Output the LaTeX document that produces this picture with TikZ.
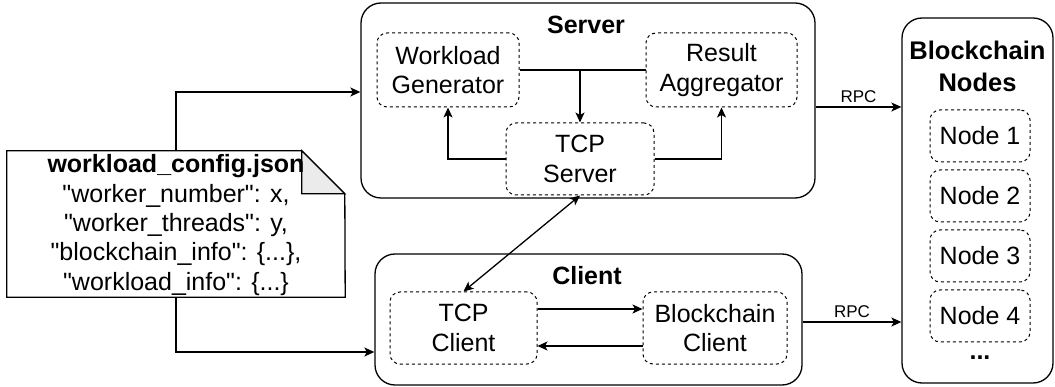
\documentclass[tikz,border=0pt]{standalone}
\usepackage{fontspec}
\setmainfont{Liberation Sans}[Ligatures=TeXOff]
\usetikzlibrary{arrows.meta,calc}
\newcommand\bfnt{\fontsize{25}{29.4}\selectfont}
\newcommand\rpcfnt{\fontsize{17}{20}\selectfont}
\begin{document}
\begin{tikzpicture}[x=1pt,y=-1pt,
  bigbox/.style={draw, line width=1.3pt, rounded corners=20pt, inner sep=0pt},
  subbox/.style={draw, line width=1pt, dash pattern=on 3pt off 3pt, rounded corners=10pt, inner sep=0pt, align=center, font=\bfnt},
  title/.style={font=\bfnt\bfseries, align=center, inner sep=0pt},
  arr/.style={line width=1.3pt, -{Stealth[length=10pt,width=9pt,inset=2.5pt]}},
  arrr/.style={line width=1.3pt, {Stealth[length=10pt,width=9pt,inset=2.5pt]}-{Stealth[length=10pt,width=9pt,inset=2.5pt]}},
  ln/.style={line width=1.3pt}
]
\useasboundingbox (0,0) rectangle (1055,387);

% config note
\node[minimum width=338pt, minimum height=146pt, inner sep=0pt] (cfg) at (176,224) {};
\draw[line width=1.3pt, fill=white] (cfg.north west) -- ++(295,0) -- ++(43,43) -- (cfg.south east) -- (cfg.south west) -- cycle;
\draw[line width=1.3pt, fill=black!8] ($(cfg.north west)+(295,0)$) -- ++(0,43) -- ++(43,0) -- cycle;
\node[align=center, inner sep=0pt, font=\bfnt] (cfgtxt) at (176,225) {\textbf{workload\_config.json}\\"worker\_number": x,\\"worker\_threads": y,\\"blockchain\_info": \{...\},\\"workload\_info": \{...\}};

% server
\node[bigbox, minimum width=454pt, minimum height=195pt] (S) at (588,100.5) {};
\node[title] (St) at (586,25) {Server};
\node[subbox, minimum width=142pt, minimum height=74pt] (WG) at (448,70) {Workload\\Generator};
\node[subbox, minimum width=151pt, minimum height=74pt] (RA) at (721.5,70) {Result\\Aggregator};
\node[subbox, minimum width=148pt, minimum height=72pt] (TS) at (580,159) {TCP\\Server};
\draw[ln] (WG.east) -- (RA.west);
\coordinate (j) at (580,70);
\draw[arr] (j) -- (TS.north);
\draw[arr] (TS.west) -| (WG.south);
\draw[arr] (TS.east) -| (RA.south);

% client
\node[bigbox, minimum width=427pt, minimum height=131pt] (C) at (588.5,319.5) {};
\node[title] (Ct) at (587,276) {Client};
\node[subbox, minimum width=147pt, minimum height=72pt] (TC) at (463.5,328) {TCP\\Client};
\node[subbox, minimum width=144pt, minimum height=72pt] (BC) at (715,328) {Blockchain\\Client};
\draw[arr] ($(TC.east)+(0,-19)$) coordinate (a1) -- (a1 -| BC.west);
\draw[arr] ($(BC.west)+(0,18)$) coordinate (a2) -- (a2 -| TC.east);
\draw[arrr] (TS.south) -- (TC.north);

% blockchain nodes
\node[bigbox, minimum width=151pt, minimum height=365pt] (BN) at (977.5,200.5) {};
\node[title, font=\fontsize{25.5}{32}\selectfont\bfseries] (BNt) at (977.5,66) {Blockchain\\Nodes};
\node[subbox, minimum width=100pt, minimum height=52pt] (N1) at (980,136) {Node 1};
\node[subbox, minimum width=100pt, minimum height=52pt] (N2) at (980,196) {Node 2};
\node[subbox, minimum width=100pt, minimum height=52pt] (N3) at (980,256) {Node 3};
\node[subbox, minimum width=100pt, minimum height=52pt] (N4) at (980,316) {Node 4};
\node[title] (dots) at (980,358) {...};

% RPC
\draw[arr] ($(S.east)+(0,6.5)$) coordinate (r1) -- (r1 -| BN.west) node[midway, above, font=\rpcfnt, inner sep=4pt] {RPC};
\draw[arr] ($(C.east)+(0,2.5)$) coordinate (r2) -- (r2 -| BN.west) node[midway, above, font=\rpcfnt, inner sep=4pt] {RPC};

% config links
\draw[arr] (cfg.north) |- ($(S.west)+(0,-8.5)$);
\draw[arr] (cfg.south) |- ($(C.west)+(0,32.5)$);
\end{tikzpicture}
\end{document}
